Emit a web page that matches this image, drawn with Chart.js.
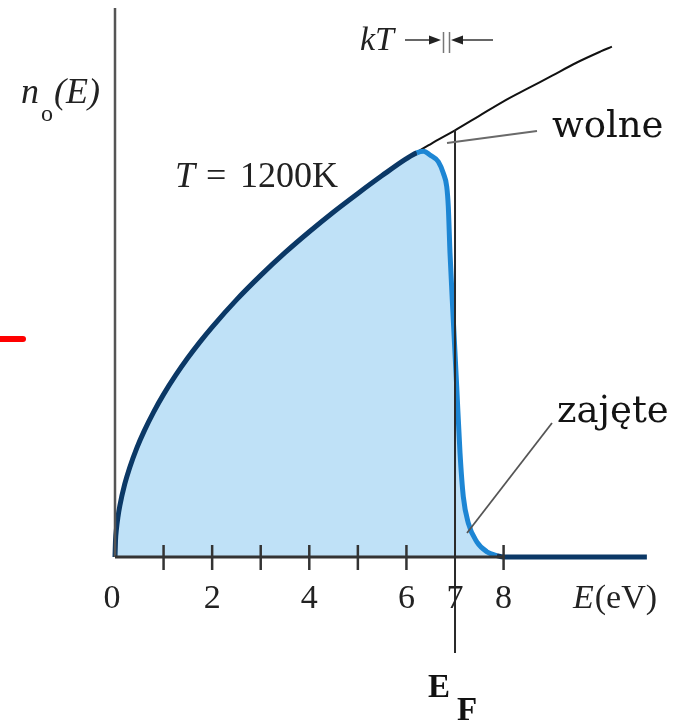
<!DOCTYPE html>
<html>
<head>
<meta charset="utf-8">
<script src="https://cdn.jsdelivr.net/npm/chart.js@4.4.1/dist/chart.umd.min.js"></script>
<style>
  html, body { margin: 0; padding: 0; background: #fff; }
  canvas { display: block; }
</style>
</head>
<body>
<canvas id="fermiChart" width="687" height="721"></canvas>
<script>
// gęstość stanów swobodnych n(E), energia w eV
const freeEnergy = [0, 0.01, 0.03, 0.06, 0.1, 0.2, 0.3, 0.45, 0.6, 0.8, 1, 1.25, 1.5, 1.75, 2, 2.5, 3, 3.5, 4, 4.5, 5,
  5.5, 6, 6.5, 7, 7.5, 8, 8.5, 9, 9.5, 10, 10.23];
const freeDensity = [0, 0.10, 0.175, 0.247, 0.319, 0.452, 0.553, 0.678, 0.782, 0.903, 1.01, 1.129, 1.237, 1.336, 1.428, 1.597, 1.749, 1.89, 2.02, 2.143, 2.258,
  2.369, 2.474, 2.565, 2.65, 2.74, 2.83, 2.91, 2.99, 3.07, 3.14, 3.17];

// stany zajęte przy T = 1200 K
const occEnergy = [0, 0.01, 0.03, 0.06, 0.1, 0.2, 0.3, 0.45, 0.6, 0.8, 1, 1.25, 1.5, 1.75, 2, 2.5, 3, 3.5, 4, 4.5, 5,
  5.5, 6, 6.21, 6.35, 6.485, 6.657, 6.76, 6.83, 6.862, 6.897, 6.965, 7.035, 7.103, 7.171, 7.274,
  7.447, 7.653, 7.859, 8.03, 10.95];
const occDensity = [0, 0.10, 0.175, 0.247, 0.319, 0.452, 0.553, 0.678, 0.782, 0.903, 1.01, 1.129, 1.237, 1.336, 1.428, 1.597, 1.749, 1.89, 2.02, 2.143, 2.258,
  2.369, 2.474, 2.51, 2.52, 2.497, 2.455, 2.383, 2.30, 2.176, 1.888, 1.472, 1.058, 0.646, 0.374, 0.211,
  0.095, 0.033, 0.009, 0, 0];

const tickMarks = [1, 2, 3, 4, 5, 6, 8];
const tickLabels = [0, 2, 4, 6, 7, 8];
const fermiEnergy = 7;

const NAVY = '#0b3866';
const BLUE = '#1d86d4';
const FILL = '#bfe1f7';
const SERIF = '"Liberation Serif", "Times New Roman", serif';
const SERIF_WIDE = '"DejaVu Serif", serif';

const toPoints = (xs, ys) => xs.map((x, i) => ({ x, y: ys[i] }));

const drawExtras = {
  id: 'drawExtras',
  afterDatasetsDraw(chart) {
    const { ctx } = chart;
    const px = (v) => chart.scales.x.getPixelForValue(v);
    const py = (v) => chart.scales.y.getPixelForValue(v);
    const y0 = py(0);
    const line = (x1, y1, x2, y2) => {
      ctx.beginPath();
      ctx.moveTo(x1, y1);
      ctx.lineTo(x2, y2);
      ctx.stroke();
    };
    const tri = (pts) => {
      ctx.beginPath();
      ctx.moveTo(pts[0], pts[1]);
      ctx.lineTo(pts[2], pts[3]);
      ctx.lineTo(pts[4], pts[5]);
      ctx.closePath();
      ctx.fill();
    };

    ctx.save();
    // osie
    ctx.strokeStyle = '#555';
    ctx.lineWidth = 2.5;
    line(px(0), y0, px(0), 8);
    ctx.strokeStyle = '#333';
    ctx.lineWidth = 3;
    line(px(0), y0, px(8), y0);
    ctx.lineWidth = 2.5;
    tickMarks.forEach((v) => line(px(v), y0 - 12, px(v), y0 + 13));

    // poziom Fermiego
    const nF = freeDensity[freeEnergy.indexOf(fermiEnergy)];
    ctx.strokeStyle = '#2a2a2a';
    ctx.lineWidth = 2;
    line(px(fermiEnergy), py(nF), px(fermiEnergy), 653);

    // opisy osi
    ctx.fillStyle = '#222';
    ctx.textBaseline = 'alphabetic';
    ctx.textAlign = 'center';
    ctx.font = `34px ${SERIF}`;
    tickLabels.forEach((v) => ctx.fillText(String(v), px(v) + (v === 0 ? -3 : 0), 608));

    ctx.textAlign = 'left';
    ctx.font = `italic 34px ${SERIF}`;
    ctx.fillText('E', 573, 608);
    const w = ctx.measureText('E').width;
    ctx.font = `34px ${SERIF}`;
    ctx.fillText('(eV)', 573 + w + 1, 608);

    ctx.font = `italic 36px ${SERIF}`;
    ctx.fillText('n', 21, 103);
    ctx.font = `24px ${SERIF}`;
    ctx.fillText('o', 41, 121);
    ctx.font = `italic 36px ${SERIF}`;
    ctx.fillText('(E)', 54, 103);

    ctx.font = `italic 36px ${SERIF}`;
    ctx.fillText('T', 175, 187);
    ctx.font = `36px ${SERIF}`;
    ctx.fillText('=', 206, 187);
    ctx.fillText('1200K', 240, 187);

    // kT
    ctx.font = `italic 34px ${SERIF}`;
    ctx.fillText('kT', 360, 50);
    ctx.strokeStyle = '#333';
    ctx.fillStyle = '#222';
    ctx.lineWidth = 1.5;
    line(405, 40, 434, 40);
    tri([441, 40, 429, 35.5, 429, 44.5]);
    line(458, 40, 493, 40);
    tri([451, 40, 463, 35.5, 463, 44.5]);
    ctx.strokeStyle = '#777';
    line(443.5, 32, 443.5, 53);
    line(449.5, 32, 449.5, 53);

    // wolne / zajęte
    ctx.fillStyle = '#141414';
    ctx.font = `37px ${SERIF_WIDE}`;
    ctx.fillText('wolne', 552, 137);
    ctx.fillText('zajęte', 557, 422);
    ctx.strokeStyle = '#6a6a6a';
    ctx.lineWidth = 2;
    line(537, 131, 447, 143);
    ctx.strokeStyle = '#555';
    ctx.lineWidth = 1.8;
    line(552, 423, 467, 533);

    // E_F
    ctx.fillStyle = '#111';
    ctx.font = `bold 33px ${SERIF}`;
    ctx.fillText('E', 428, 697);
    ctx.fillText('F', 457, 720);

    // znacznik
    ctx.strokeStyle = '#ff0000';
    ctx.lineWidth = 6;
    ctx.lineCap = 'round';
    line(-4, 339, 23, 339);
    ctx.restore();
  },
};

const occupied = toPoints(occEnergy, occDensity);

const chart = new Chart(document.getElementById('fermiChart'), {
  type: 'line',
  data: {
    datasets: [
      {
        label: 'zajęte',
        data: occupied,
        borderColor: BLUE,
        borderWidth: 5,
        fill: false,
        pointRadius: 0,
        cubicInterpolationMode: 'monotone',
        clip: false,
        order: 0,
        segment: {
          borderColor: (c) => ((c.p1.parsed.x <= 6.21 || c.p0.parsed.x >= 7.859) ? NAVY : BLUE),
        },
      },
      {
        label: 'wolne',
        data: toPoints(freeEnergy, freeDensity),
        borderColor: '#111',
        borderWidth: 2,
        fill: false,
        pointRadius: 0,
        cubicInterpolationMode: 'monotone',
        clip: false,
        order: 1,
      },
      {
        label: 'obszar zajęty',
        data: occupied,
        borderWidth: 0,
        backgroundColor: FILL,
        fill: 'origin',
        pointRadius: 0,
        cubicInterpolationMode: 'monotone',
        order: 2,
      },
    ],
  },
  options: {
    responsive: false,
    devicePixelRatio: 1,
    animation: false,
    layout: {
      padding: { left: 115, right: 37.7, top: 9.6, bottom: 164 },
    },
    scales: {
      x: { type: 'linear', min: 0, max: 11, display: false },
      y: { type: 'linear', min: 0, max: 3.4, display: false },
    },
    plugins: {
      legend: { display: false },
      tooltip: { enabled: false },
    },
  },
  plugins: [drawExtras],
});
</script>
</body>
</html>
